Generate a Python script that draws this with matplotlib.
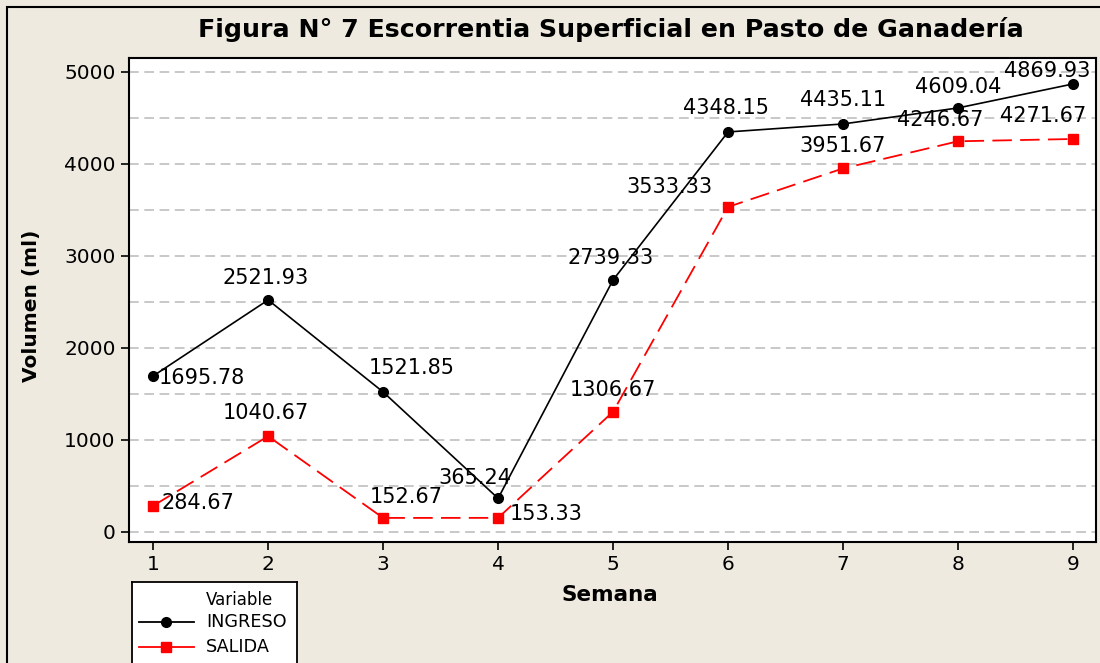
import matplotlib
matplotlib.use("Agg")
import matplotlib.pyplot as plt
from matplotlib.patches import Rectangle
from matplotlib.lines import Line2D

plt.rcParams['font.family'] = ['DejaVu Sans']
plt.rcParams['lines.scale_dashes'] = False

semana = [1, 2, 3, 4, 5, 6, 7, 8, 9]
ingreso = [1695.78, 2521.93, 1521.85, 365.24, 2739.33, 4348.15, 4435.11, 4609.04, 4869.93]
salida = [284.67, 1040.67, 152.67, 153.33, 1306.67, 3533.33, 3951.67, 4246.67, 4271.67]
ingreso_labels = ["1695.78", "2521.93", "1521.85", "365.24", "2739.33", "4348.15", "4435.11", "4609.04", "4869.93"]
salida_labels = ["284.67", "1040.67", "152.67", "153.33", "1306.67", "3533.33", "3951.67", "4246.67", "4271.67"]
yticks = [0, 1000, 2000, 3000, 4000, 5000]

W, H = 1100, 663
fig = plt.figure(figsize=(W / 100, H / 100), dpi=100)
fig.patch.set_facecolor('#EEEADF')

def fx(px):
    return px / W

def fy(py):
    return 1 - py / H

ax = fig.add_axes([fx(129), fy(542), fx(1096) - fx(129), fy(58) - fy(542)])
ax.set_facecolor('white')
ax.set_xlim(0.79, 9.2)
ax.set_ylim(-109, 5152)

for v in range(0, 5001, 500):
    ax.axhline(v, color='#C4C4C4', lw=1.3, dashes=(7, 4), zorder=1)

ax.plot(semana, ingreso, color='black', lw=1.2, marker='o', ms=7, zorder=3)
ax.plot(semana, salida, color='#FF0000', lw=1.3, dashes=(14, 6), marker='s', ms=6.5, zorder=3)

ing_off = [(6, -2, 'left'), (-3, 22, 'center'), (29, 24, 'center'), (-23, 20, 'center'),
           (-2, 22, 'center'), (-2, 24, 'center'), (0, 24, 'center'), (0, 21, 'center'),
           (-26, 13, 'center')]
sal_off = [(8, 3, 'left'), (-2, 23, 'center'), (23, 21, 'center'), (12, 4, 'left'),
           (0, 22, 'center'), (-59, 20, 'center'), (0, 22, 'center'), (-18, 21, 'center'),
           (-30, 23, 'center')]

for x, y, lab, (dx, dy, ha) in zip(semana, ingreso, ingreso_labels, ing_off):
    ax.annotate(lab, (x, y), xytext=(dx, dy), textcoords='offset pixels',
                ha=ha, va='center', fontsize=15, zorder=4)
for x, y, lab, (dx, dy, ha) in zip(semana, salida, salida_labels, sal_off):
    ax.annotate(lab, (x, y), xytext=(dx, dy), textcoords='offset pixels',
                ha=ha, va='center', fontsize=15, zorder=4)

ax.set_xticks(semana)
ax.set_yticks(yticks)
ax.tick_params(axis='both', direction='out', length=6, width=1.2, labelsize=14.5, color='black')
ax.tick_params(top=False, right=False)
for sp in ax.spines.values():
    sp.set_linewidth(1.5)
    sp.set_color('black')

fig.text(fx(611), fy(30), 'Figura N° 7 Escorrentia Superficial en Pasto de Ganadería',
         ha='center', va='center', fontsize=18.2, fontweight='bold')
fig.text(fx(610), fy(595), 'Semana', ha='center', va='center', fontsize=15.5, fontweight='bold')
fig.text(fx(32), fy(306), 'Volumen (ml)', ha='center', va='center', fontsize=14.5,
         fontweight='bold', rotation=90)

# outer frame
fig.add_artist(Rectangle((fx(7), -0.1), 1.2, fy(7) + 0.1, transform=fig.transFigure,
                         fill=False, ec='black', lw=1.5))

# legend
lax = fig.add_axes([fx(132), fy(673), fx(297) - fx(132), fy(582) - fy(673)])
lax.set_xlim(132, 297)
lax.set_ylim(673, 582)
lax.set_xticks([])
lax.set_yticks([])
lax.set_facecolor('white')
for sp in lax.spines.values():
    sp.set_linewidth(1.3)
    sp.set_color('black')
lax.text(206, 600, 'Variable', ha='left', va='center', fontsize=12)
lax.add_line(Line2D([139, 194], [622, 622], color='black', lw=1.3))
lax.plot([166], [622], marker='o', color='black', ms=7)
lax.text(206, 622, 'INGRESO', ha='left', va='center', fontsize=12.7)
lax.add_line(Line2D([139, 194], [647, 647], color='#FF0000', lw=1.3))
lax.plot([166], [647], marker='s', color='#FF0000', ms=6.5)
lax.text(206, 647, 'SALIDA', ha='left', va='center', fontsize=12.7)

fig.savefig('out.png', dpi=100, facecolor=fig.get_facecolor())
